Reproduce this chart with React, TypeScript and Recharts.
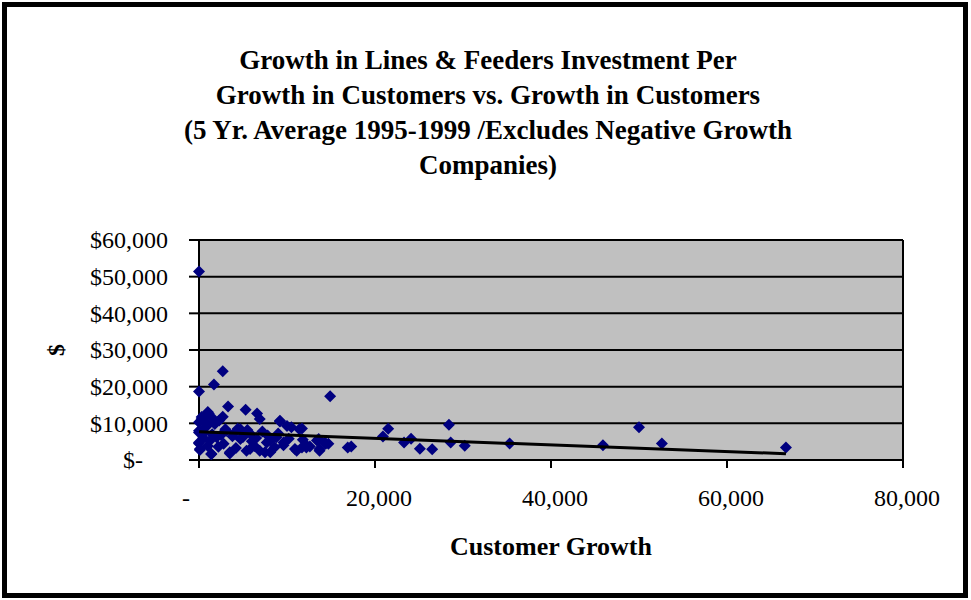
import { CartesianGrid, Label, ReferenceLine, Scatter, ScatterChart, XAxis, YAxis } from 'recharts';

// customer growth (x) and lines & feeders investment per customer (y)
const customerGrowth = [
  0, 0, 1700, 2700, 14900, 16900, 17300, 21500, 20900, 23300, 24100, 25100, 26500, 28400, 28600, 30200,
  35300, 45900, 50000, 52600, 66700,
  3300, 5300, 6600, 6900, 1100, 1000, 2700, 300, 300, 0, 9200, 9200, 10000, 10500, 11400, 11700, 4400,
  4700, 3100, 3000, 5800, 7800, 0, 900, 700, 0, 0, 0, 100, 100, 1400, 1400, 3500, 3500, 5400, 5800,
  6900, 7500, 8100, 10900, 11100, 11700, 12200, 12200, 12600, 13700, 13700, 14400, 14300, 14700, 13400,
  13600, 9600, 9600, 8100, 7700, 6000, 4700, 2800, 2000,
  500, 1500, 2500, 3800, 5000, 6500, 8800, 10200, 11800, 1200, 2200, 4200, 6300, 8600, 800, 1800, 2300,
  1500, 4000, 5500, 7200, 9000, 400, 1000,
];
const investmentPerCustomer = [
  51400, 18700, 20600, 24200, 17400, 3400, 3700, 8550, 6400, 4800, 5800, 3100, 2900, 9600, 4800, 3900,
  4500, 4000, 8900, 4500, 3400,
  14600, 13700, 12700, 11200, 12700, 13100, 11800, 11200, 11700, 10300, 10500, 10700, 9300, 8900, 8400,
  8600, 8500, 8400, 8000, 8400, 7200, 6700, 8000, 9300, 8900, 7500, 4500, 4800, 2700, 3000, 1700, 1600,
  1800, 2100, 2500, 3000, 2500, 2100, 2100, 3000, 2500, 3400, 3400, 4000, 3700, 2500, 3000, 4400, 4800,
  4400, 5300, 5700, 4800, 4000, 5300, 4800, 5100, 5700, 4400, 6200,
  6000, 7000, 6800, 6500, 6300, 6000, 6200, 5800, 5500, 5200, 3600, 3300, 3800, 3500, 10200, 9800, 10800,
  11500, 7300, 8200, 7800, 7200, 7000, 3800,
];

// linear trend line end points
const trendX = [0, 66700];
const trendY = [7700, 1700];

const xTicks = [0, 20000, 40000, 60000, 80000];
const yTicks = [0, 10000, 20000, 30000, 40000, 50000, 60000];

const titleLines = [
  'Growth in Lines & Feeders Investment Per',
  'Growth in Customers vs. Growth in Customers',
  '(5 Yr. Average 1995-1999 /Excludes Negative Growth',
  'Companies)',
];

const points = customerGrowth.map((x, i) => ({ x, y: investmentPerCustomer[i] }));
const trend = trendX.map((x, i) => ({ x, y: trendY[i] }));

const FONT = '"Liberation Serif", "Times New Roman", serif';

const Diamond = (props: any) => {
  const { cx, cy } = props;
  const r = 6;
  return (
    <polygon
      points={`${cx},${cy - r} ${cx + r},${cy} ${cx},${cy + r} ${cx - r},${cy}`}
      fill="#000080"
    />
  );
};

const fmt = (v: number) => v.toLocaleString('en-US');

const XTick = (props: any) => {
  const { x, y, payload } = props;
  const v = payload.value as number;
  return (
    <text
      x={v === 0 ? x - 13 : x + 4}
      y={y}
      dy="0.71em"
      textAnchor="middle"
      fontFamily={FONT}
      fontSize={24}
      fill="#000"
    >
      {v === 0 ? '-' : fmt(v)}
    </text>
  );
};

const YTick = (props: any) => {
  const { x, y, payload } = props;
  const v = payload.value as number;
  return (
    <text
      x={v === 0 ? x - 25 : x}
      y={y}
      dy="0.35em"
      textAnchor="end"
      fontFamily={FONT}
      fontSize={24}
      fill="#000"
    >
      {v === 0 ? '$-' : `$${fmt(v)}`}
    </text>
  );
};

const App = () => (
  <div style={{ position: 'absolute', left: 0, top: 0, width: 971, height: 600, background: '#fff' }}>
    <div
      style={{
        position: 'absolute',
        left: 2,
        top: 2,
        width: 956,
        height: 586,
        border: '5px solid #000',
      }}
    />
    <div
      style={{
        position: 'absolute',
        left: 0,
        top: 43,
        width: 976,
        textAlign: 'center',
        fontFamily: FONT,
        fontWeight: 'bold',
        fontSize: 27,
        lineHeight: '35px',
      }}
    >
      {titleLines.map((t) => (
        <div key={t}>{t}</div>
      ))}
    </div>
    <div style={{ position: 'absolute', left: 0, top: 0 }}>
      <ScatterChart width={971} height={600} margin={{ top: 240, right: 68, bottom: 50, left: 0 }}>
        <CartesianGrid vertical={false} stroke="#000" strokeWidth={2} fill="#C0C0C0" />
        <XAxis
          type="number"
          dataKey="x"
          domain={[0, 80000]}
          ticks={xTicks}
          height={90}
          tickSize={8}
          tickMargin={21}
          axisLine={{ stroke: '#000', strokeWidth: 2 }}
          tickLine={{ stroke: '#000', strokeWidth: 2 }}
          tick={<XTick />}
        >
          <Label
            content={(p: any) => {
              const vb = p.viewBox;
              return (
                <text
                  x={vb.x + vb.width / 2}
                  y={546}
                  dy="0.35em"
                  textAnchor="middle"
                  fontFamily={FONT}
                  fontWeight="bold"
                  fontSize={26}
                  fill="#000"
                >
                  Customer Growth
                </text>
              );
            }}
          />
        </XAxis>
        <YAxis
          type="number"
          dataKey="y"
          domain={[0, 60000]}
          ticks={yTicks}
          width={199}
          tickSize={10}
          tickMargin={21}
          axisLine={{ stroke: '#000', strokeWidth: 2 }}
          tickLine={{ stroke: '#000', strokeWidth: 2 }}
          tick={<YTick />}
        >
          <Label
            content={(p: any) => {
              const vb = p.viewBox;
              const cy = vb.y + vb.height / 2;
              return (
                <text
                  x={56}
                  y={cy}
                  dy="0.35em"
                  textAnchor="middle"
                  transform={`rotate(-90, 56, ${cy})`}
                  fontFamily={FONT}
                  fontWeight="bold"
                  fontSize={24}
                  fill="#000"
                >
                  $
                </text>
              );
            }}
          />
        </YAxis>
        <ReferenceLine x={80000} stroke="#000" strokeWidth={2} />
        <Scatter data={points} shape={<Diamond />} isAnimationActive={false} />
        <Scatter
          data={trend}
          line={{ stroke: '#000', strokeWidth: 3 }}
          shape={() => <g />}
          isAnimationActive={false}
        />
      </ScatterChart>
    </div>
  </div>
);

export default App;
